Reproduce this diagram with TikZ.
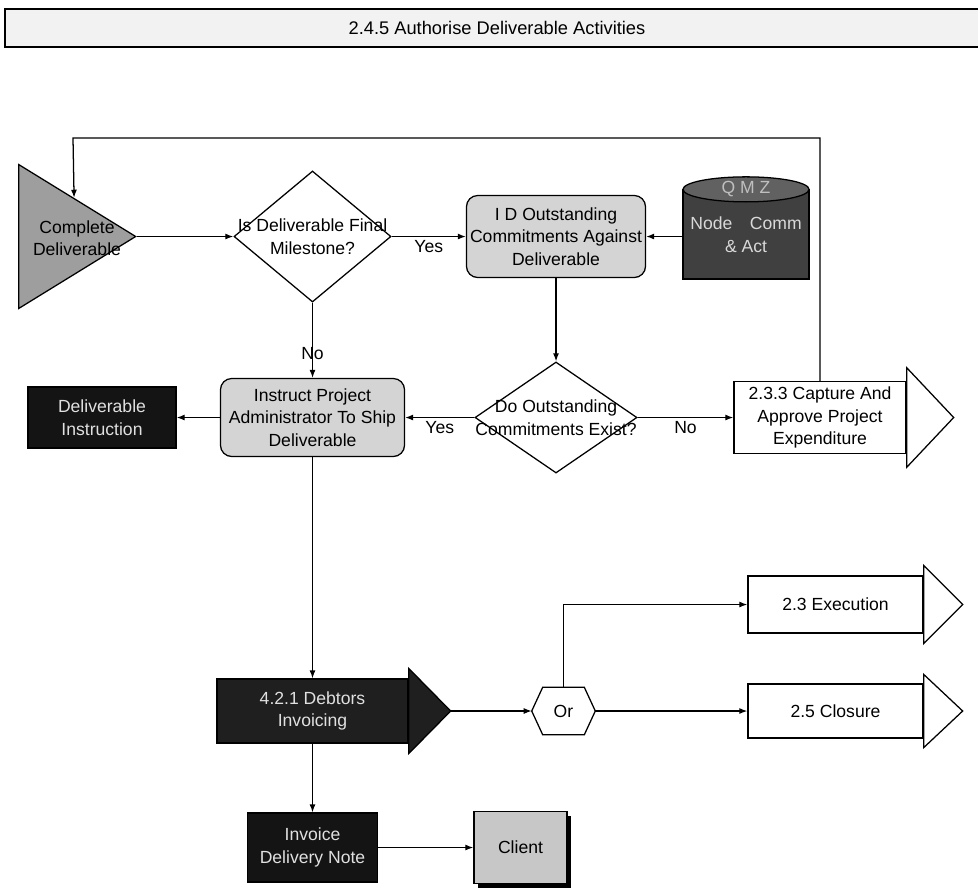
\documentclass[tikz,border=0pt]{standalone}
\usepackage{fontspec}
\setmainfont{Liberation Sans}
\usepackage{tikz}
\usetikzlibrary{shapes.geometric, arrows.meta, positioning, calc, shadows}
\tikzstyle{arr} = [line width=0.9pt, ->, >={Latex[length=2mm,width=1.5mm]}]
\newcommand{\headof}[4]{%
  \draw [line width=0.9pt, fill=#4] ([yshift=#2]#1.north east)
    -- ([xshift=#3]#1.east) -- ([yshift=-#2]#1.south east) -- cycle;}

\begin{document}
\begin{tikzpicture}[x=0.025cm, y=-0.025cm,
        every node/.style={font=\fontsize{12.5}{16}\selectfont, align=center},
        titlebar/.style={rectangle, draw, line width=1.2pt, fill=black!5,
            font=\fontsize{13}{16}\selectfont},
        event/.style={isosceles triangle, isosceles triangle stretches,
            shape border rotate=0, minimum width=3.6cm, minimum height=2.925cm,
            inner sep=0pt, draw, line width=0.9pt, fill=black!38},
        decide/.style={diamond, draw, line width=0.9pt, fill=white, inner sep=0pt},
        task/.style={rectangle, rounded corners=8pt, draw, line width=0.9pt,
            fill=black!17, inner sep=2pt},
        store/.style={rectangle, draw, line width=0.9pt, fill=black!75,
            text=black!15},
        doc/.style={rectangle, draw, line width=0.9pt, fill=black!92,
            text=white!88!black},
        process/.style={rectangle, draw, line width=0.9pt, fill=white},
        party/.style={rectangle, draw, line width=0.9pt, fill=black!22,
            drop shadow={shadow xshift=0.1cm, shadow yshift=-0.1cm,
            fill=black, opacity=1}},
        lbl/.style={inner sep=2pt}
    ]
    \useasboundingbox (0,0) rectangle (978,890);
    \node (title)    [titlebar, minimum width=24.6cm, minimum height=0.95cm]
        at (497,28) {2.4.5 Authorise Deliverable Activities};
    % top row
    \node (done)     [event, anchor=lower side] at (18,236.5) {};
    \node (donetxt)  at (77,238) {Complete\\Deliverable};
    \node (isfinal)  [decide, minimum width=3.925cm, minimum height=3.275cm,
        label={center:Is Deliverable Final\\Milestone?}] at (312.5,236.5) {};
    \node (idout)    [task, minimum width=4.475cm, minimum height=2.05cm]
        at (556,236.5) {I D Outstanding\\Commitments Against\\Deliverable};
    \node (qmz)      [store, minimum width=3.15cm, minimum height=2.225cm]
        at (746,234.5) {Node\quad Comm\\\& Act};
    \draw [line width=0.9pt, fill=black!62] (qmz.north)
        ellipse [x radius=1.575cm, y radius=0.3125cm];
    \node (qmzlbl)   [text=black!25] at (qmz.north) {Q M Z};
    % middle row
    \node (dinstr)   [doc, minimum width=3.7cm, minimum height=1.525cm]
        at (102,417.5) {Deliverable\\Instruction};
    \node (instruct) [task, minimum width=4.6cm, minimum height=1.95cm]
        at (312.5,417.5) {Instruct Project\\Administrator To Ship\\Deliverable};
    \node (exists)   [decide, minimum width=4.05cm, minimum height=2.775cm,
        label={center:Do Outstanding\\Commitments Exist?}] at (556,417.5) {};
    \node (capture)  [process, minimum width=4.3cm, minimum height=1.8cm]
        at (820,417.5) {2.3.3 Capture And\\Approve Project\\Expenditure};
    \headof{capture}{0.33cm}{1.175cm}{white}
    % lower part
    \node (debtors)  [doc, fill=black!88, minimum width=4.775cm, minimum height=1.6cm]
        at (312.5,711) {4.2.1 Debtors\\Invoicing};
    \headof{debtors}{0.25cm}{1.05cm}{black!88}
    \node (or)       [minimum width=1.575cm, minimum height=1.175cm]
        at (563.5,711) {Or};
    \draw [line width=0.9pt] (or.west) -- ([xshift=0.275cm]or.north west)
        -- ([xshift=-0.275cm]or.north east) -- (or.east)
        -- ([xshift=-0.275cm]or.south east) -- ([xshift=0.275cm]or.south west) -- cycle;
    \node (exec)     [process, minimum width=4.375cm, minimum height=1.425cm]
        at (835.5,604.5) {2.3 Execution};
    \headof{exec}{0.25cm}{0.975cm}{white}
    \node (closure)  [process, minimum width=4.375cm, minimum height=1.35cm]
        at (835.5,711) {2.5 Closure};
    \headof{closure}{0.225cm}{0.975cm}{white}
    \node (invoice)  [doc, draw=black, minimum width=3.25cm, minimum height=1.725cm]
        at (312.5,847.5) {Invoice\\Delivery Note};
    \node (client)   [party, minimum width=2.325cm, minimum height=1.8cm]
        at (520.5,847.5) {Client};
    % connectors
    \coordinate (fbturn) at (73,138);
    \coordinate (fbend) at ($(done.apex)!0.53!(done.left corner)$);
    \draw [arr] (done.apex)    -- (isfinal.west);
    \draw [arr] (isfinal.east) -- node[below, lbl]{Yes} (idout.west);
    \draw [arr] (qmz.west |- idout.east) -- (idout.east);
    \draw [arr] (isfinal.south) -- node[pos=0.68, lbl]{No} (instruct.north);
    \draw [arr] (idout.south)  -- (exists.north);
    \draw [arr] (exists.west)  -- node[below, lbl]{Yes} (instruct.east);
    \draw [arr] (exists.east)  -- node[below, lbl]{No} (capture.west);
    \draw [arr] (instruct.west) -- (dinstr.east);
    \draw [arr] (capture.north) |- (fbturn) -- (fbend);
    \draw [arr] (instruct.south) -- (debtors.north);
    \draw [arr] ([xshift=1.05cm]debtors.east) -- (or.west);
    \draw [arr] (or.north) |- (exec.west);
    \draw [arr] (or.east) -- (closure.west);
    \draw [arr] (debtors.south) -- (invoice.north);
    \draw [arr] (invoice.east) -- (client.west);
\end{tikzpicture}
\end{document}
